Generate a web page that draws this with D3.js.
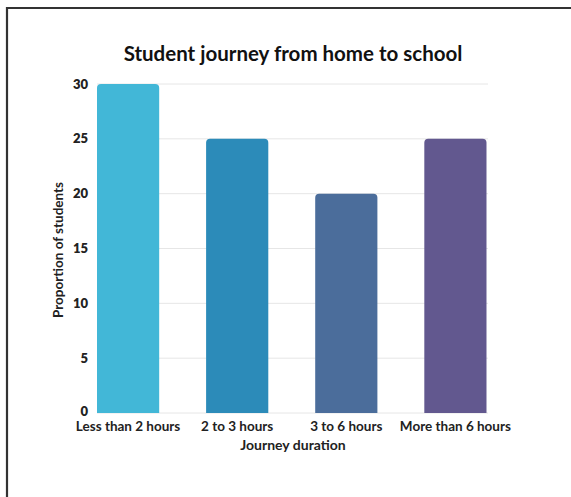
<!DOCTYPE html>
<html><head><meta charset="utf-8">
<script src="https://cdn.jsdelivr.net/npm/d3@7"></script>
<style>html,body{margin:0;padding:0;background:#fff;}svg{display:block;}</style>
</head><body>
<svg id="chart" width="571" height="497"></svg>
<script>
const categories = ["Less than 2 hours", "2 to 3 hours", "3 to 6 hours", "More than 6 hours"];
const values = [30, 25, 20, 25];
const colors = ["#42b7d7", "#2c8bb9", "#4b6d9b", "#62588f"];
const yTicks = [0, 5, 10, 15, 20, 25, 30];
const title = "Student journey from home to school";
const xTitle = "Journey duration";
const yTitle = "Proportion of students";

const svg = d3.select("#chart");
const font = "Lato, 'Open Sans', sans-serif";

// frame
svg.append("path").attr("d", "M7,497 V8 H571").attr("fill", "none").attr("stroke", "#333").attr("stroke-width", 2.2);

const x = d3.scaleBand().domain(categories).range([73, 510.5]).paddingInner(0.43).paddingOuter(0.22);
const y = d3.scaleLinear().domain([0, 30]).range([413, 84]);
const gx0 = 97, gx1 = 488;

// gridlines
svg.append("g").selectAll("line").data(yTicks).join("line")
  .attr("x1", gx0).attr("x2", gx1).attr("y1", d => y(d)).attr("y2", d => y(d))
  .attr("stroke", "#e6e6e6").attr("stroke-width", 1);

// y tick labels
svg.append("g").selectAll("text").data(yTicks).join("text")
  .attr("x", 88).attr("y", d => y(d) + (d === 0 ? 3 : 4.5)).attr("text-anchor", "end")
  .attr("font-family", font).attr("font-weight", 800).attr("font-size", 13).attr("fill", "#222")
  .text(d => d);

// bars with rounded tops
const r = 4;
svg.append("g").selectAll("path").data(values).join("path")
  .attr("d", (d, i) => {
    const x0 = x(categories[i]), w = x.bandwidth(), y0 = y(d), y1 = y(0);
    return `M${x0},${y1} V${y0 + r} Q${x0},${y0} ${x0 + r},${y0} H${x0 + w - r} Q${x0 + w},${y0} ${x0 + w},${y0 + r} V${y1} Z`;
  })
  .attr("fill", (d, i) => colors[i]);

// x labels
svg.append("g").selectAll("text").data(categories).join("text")
  .attr("x", d => x(d) + x.bandwidth() / 2).attr("y", 431).attr("text-anchor", "middle")
  .attr("font-family", font).attr("font-weight", 700).attr("font-size", 13.5).attr("fill", "#222")
  .text(d => d);

// titles
svg.append("text").attr("x", 293).attr("y", 61).attr("text-anchor", "middle")
  .attr("font-family", font).attr("font-weight", 700).attr("font-size", 20.5).attr("fill", "#111")
  .text(title);
svg.append("text").attr("x", 293).attr("y", 450).attr("text-anchor", "middle")
  .attr("font-family", font).attr("font-weight", 700).attr("font-size", 14).attr("fill", "#222")
  .text(xTitle);
svg.append("text").attr("transform", "translate(63,250) rotate(-90)").attr("text-anchor", "middle")
  .attr("font-family", font).attr("font-weight", 700).attr("font-size", 13.5).attr("fill", "#222")
  .text(yTitle);
</script>
</body></html>
